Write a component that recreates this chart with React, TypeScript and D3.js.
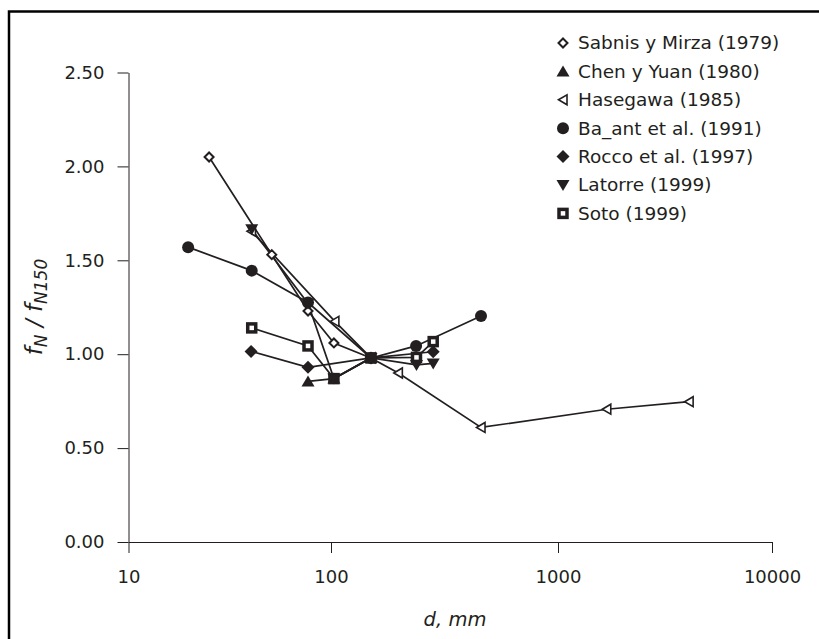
import React, { useEffect, useRef } from 'react';
import * as d3 from 'd3';

// d in mm, f = fN / fN150
const sabnisD = [25, 51, 77, 103, 150];
const sabnisF = [2.05, 1.53, 1.23, 1.06, 0.98];
const chenD = [77, 103, 150];
const chenF = [0.855, 0.87, 0.98];
const hasegawaD = [40.5, 104, 150, 198, 458, 1690, 4100];
const hasegawaF = [1.655, 1.175, 0.98, 0.9, 0.61, 0.707, 0.747];
const bazantD = [19.7, 40.6, 77, 150, 237, 458];
const bazantF = [1.57, 1.445, 1.275, 0.98, 1.044, 1.203];
const roccoD = [40.3, 77, 150, 282];
const roccoF = [1.015, 0.93, 0.98, 1.013];
const latorreD = [40.6, 77, 103, 150, 238, 282];
const latorreF = [1.665, 1.27, 0.87, 0.98, 0.943, 0.951];
const sotoD = [40.6, 77, 103, 150, 238, 282];
const sotoF = [1.14, 1.044, 0.87, 0.98, 0.983, 1.067];

const seriesNames = [
  'Sabnis y Mirza (1979)',
  'Chen y Yuan (1980)',
  'Hasegawa (1985)',
  'Ba_ant et al. (1991)',
  'Rocco et al. (1997)',
  'Latorre (1999)',
  'Soto (1999)',
];
const seriesMarkers = ['diamondOpen', 'triUp', 'triLeft', 'circle', 'diamond', 'triDown', 'squareOpen'];

const xTicks = [10, 100, 1000, 10000];
const yTicks = [0, 0.5, 1, 1.5, 2, 2.5];

const ink = '#231f20';
const font = 'DejaVu Sans, Verdana, sans-serif';

function marker(g: any, type: string, x: number, y: number) {
  const m = g.append('g').attr('transform', 'translate(' + x + ',' + y + ')');
  if (type === 'circle') {
    m.append('circle').attr('r', 6).attr('fill', ink);
  } else if (type === 'diamond') {
    m.append('path').attr('d', 'M0,-6.5L6.5,0L0,6.5L-6.5,0Z').attr('fill', ink);
  } else if (type === 'diamondOpen') {
    m.append('path').attr('d', 'M0,-4.5L4.5,0L0,4.5L-4.5,0Z')
      .attr('fill', '#fff').attr('stroke', ink).attr('stroke-width', 2);
  } else if (type === 'triUp') {
    m.append('path').attr('d', 'M0,-6L6.5,5L-6.5,5Z').attr('fill', ink);
  } else if (type === 'triDown') {
    m.append('path').attr('d', 'M0,6L6.5,-5L-6.5,-5Z').attr('fill', ink);
  } else if (type === 'triLeft') {
    m.append('path').attr('d', 'M-4.5,0L4,-5L4,5Z')
      .attr('fill', '#fff').attr('stroke', ink).attr('stroke-width', 1.6);
  } else if (type === 'squareOpen') {
    m.append('rect').attr('x', -4).attr('y', -4).attr('width', 8).attr('height', 8)
      .attr('fill', '#fff').attr('stroke', ink).attr('stroke-width', 3.5);
  }
}

function App() {
  const ref = useRef<SVGSVGElement>(null);

  useEffect(() => {
    const svg = d3.select(ref.current);
    svg.selectAll('*').remove();

    const series = [
      { d: sabnisD, f: sabnisF },
      { d: chenD, f: chenF },
      { d: hasegawaD, f: hasegawaF },
      { d: bazantD, f: bazantF },
      { d: roccoD, f: roccoF },
      { d: latorreD, f: latorreF },
      { d: sotoD, f: sotoF },
    ];

    // decades are not evenly spaced in the original picture
    const x = d3.scaleLog().domain(xTicks).range([128.5, 331, 558, 772]);
    const y = d3.scaleLinear().domain([0, 2.5]).range([542, 72.5]);

    // outer frame
    svg.append('rect')
      .attr('x', 9).attr('y', 11.5).attr('width', 900).attr('height', 700)
      .attr('fill', 'none').attr('stroke', '#000').attr('stroke-width', 2.5);

    // axes
    const xAxis = svg.append('g')
      .attr('transform', 'translate(0,542)')
      .call(d3.axisBottom(x).tickValues(xTicks).tickFormat(d3.format('d')).tickSize(11).tickSizeOuter(0));
    xAxis.select('.domain').attr('stroke', ink);
    xAxis.selectAll('line').attr('stroke', ink);
    xAxis.selectAll('text')
      .attr('y', 28).attr('fill', ink)
      .attr('font-family', font).attr('font-size', 18);

    const yAxis = svg.append('g')
      .attr('transform', 'translate(128.5,0)')
      .call(d3.axisLeft(y).tickValues(yTicks).tickFormat(d3.format('.2f')).tickSize(11).tickSizeOuter(0));
    yAxis.select('.domain').attr('stroke', ink);
    yAxis.selectAll('line').attr('stroke', ink);
    yAxis.selectAll('text')
      .attr('x', -24).attr('fill', ink)
      .attr('font-family', font).attr('font-size', 18);

    // axis titles
    svg.append('text')
      .attr('x', 455).attr('y', 626)
      .attr('text-anchor', 'middle')
      .attr('font-family', font).attr('font-size', 19.5).attr('font-style', 'italic')
      .attr('fill', ink)
      .text('d, mm');

    const yt = svg.append('text')
      .attr('transform', 'translate(42,307) rotate(-90)')
      .attr('text-anchor', 'middle')
      .attr('font-family', font).attr('font-size', 23).attr('font-style', 'italic')
      .attr('fill', ink);
    yt.append('tspan').text('f');
    yt.append('tspan').attr('font-size', 17).attr('dy', 5).text('N');
    yt.append('tspan').attr('dy', -5).text(' / f');
    yt.append('tspan').attr('font-size', 17).attr('dy', 5).text('N150');

    // lines
    series.forEach(function(s) {
      const pts: [number, number][] = s.d.map(function(d, i) { return [x(d), y(s.f[i])] as [number, number]; });
      svg.append('path')
        .attr('fill', 'none')
        .attr('stroke', ink)
        .attr('stroke-width', 1.7)
        .attr('d', d3.line()(pts));
    });

    // markers: open ones underneath, filled ones on top (as in the original)
    const mg = svg.append('g');
    const order = [6, 0, 2, 1, 3, 4, 5];
    order.forEach(function(k) {
      const s = series[k];
      s.d.forEach(function(d, i) {
        marker(mg, seriesMarkers[k], x(d), y(s.f[i]));
      });
    });

    // legend
    const lg = svg.append('g');
    seriesNames.forEach(function(name, i) {
      const ly = 43 + i * 28.4;
      marker(lg, seriesMarkers[i], 563, ly);
      lg.append('text')
        .attr('x', 578).attr('y', ly)
        .attr('dy', '0.35em')
        .attr('font-family', font).attr('font-size', 18.5)
        .attr('fill', ink)
        .text(name);
    });
  }, []);

  return (
    <svg ref={ref} width="819" height="639" style={{ position: 'absolute', left: 0, top: 0, background: '#fff' }} />
  );
}

export default App;
